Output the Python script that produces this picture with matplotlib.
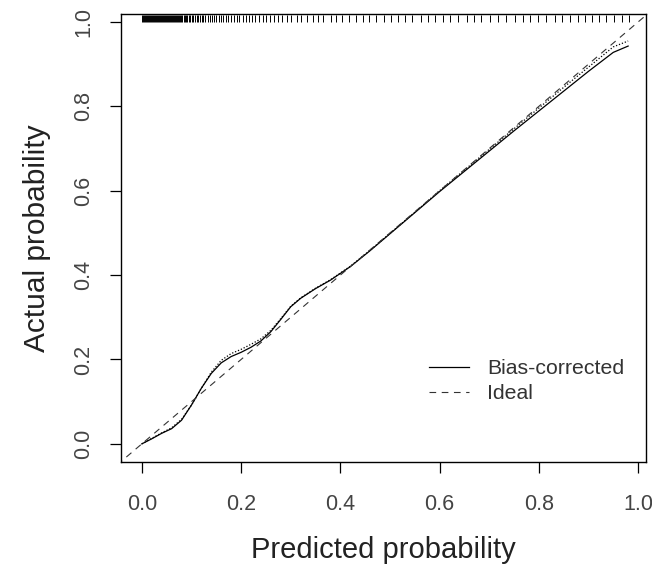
import matplotlib.pyplot as plt
import numpy as np

plt.rcParams['font.family'] = ['Liberation Sans', 'DejaVu Sans']

# calibration curves
pred = [0.0, 0.02, 0.04, 0.06, 0.08, 0.10, 0.12, 0.14, 0.16, 0.18, 0.20, 0.22,
        0.24, 0.26, 0.28, 0.30, 0.32, 0.35, 0.38, 0.42, 0.46, 0.50, 0.55, 0.60,
        0.65, 0.70, 0.75, 0.80, 0.85, 0.90, 0.95, 0.98]
bias_corrected = [0.0, 0.012, 0.025, 0.036, 0.056, 0.092, 0.132, 0.167, 0.192,
                  0.207, 0.217, 0.229, 0.244, 0.266, 0.295, 0.325, 0.345, 0.368,
                  0.388, 0.420, 0.458, 0.498, 0.548, 0.598, 0.646, 0.694, 0.742,
                  0.789, 0.836, 0.883, 0.928, 0.943]
apparent = [0.0, 0.013, 0.026, 0.038, 0.058, 0.092, 0.132, 0.170, 0.198, 0.214,
            0.224, 0.236, 0.249, 0.269, 0.297, 0.326, 0.346, 0.369, 0.389, 0.421,
            0.459, 0.499, 0.549, 0.600, 0.649, 0.698, 0.747, 0.796, 0.845, 0.893,
            0.941, 0.955]
ideal = [-0.05, 1.05]

# rug of predicted probabilities along the top
rug = [0.000, 0.002, 0.004, 0.006, 0.008, 0.010, 0.012, 0.014, 0.016, 0.018,
       0.020, 0.022, 0.024, 0.026, 0.028, 0.030, 0.032, 0.034, 0.036, 0.038,
       0.040, 0.042, 0.044, 0.046, 0.048, 0.050, 0.052, 0.054, 0.056, 0.058,
       0.060, 0.062, 0.064, 0.066, 0.068, 0.070, 0.072, 0.074, 0.076, 0.078,
       0.081, 0.084, 0.086, 0.089, 0.092, 0.095, 0.098, 0.101, 0.104, 0.108,
       0.111, 0.114, 0.118, 0.121, 0.124, 0.128, 0.133, 0.137, 0.141, 0.146,
       0.150, 0.155, 0.160, 0.164, 0.169, 0.174, 0.180, 0.186, 0.191, 0.196,
       0.203, 0.209, 0.216, 0.222, 0.229, 0.236, 0.244, 0.251, 0.259, 0.266,
       0.275, 0.283, 0.292, 0.301, 0.312, 0.321, 0.333, 0.345, 0.356, 0.366,
       0.381, 0.392, 0.404, 0.418, 0.431, 0.446, 0.458, 0.472, 0.487, 0.503,
       0.516, 0.531, 0.544, 0.562, 0.576, 0.591, 0.607, 0.622, 0.638, 0.655,
       0.669, 0.684, 0.702, 0.718, 0.733, 0.751, 0.768, 0.782, 0.799, 0.815,
       0.832, 0.847, 0.862, 0.879, 0.894, 0.908, 0.921, 0.936, 0.952, 0.967,
       0.981]

fig = plt.figure(figsize=(6.52, 5.68), dpi=100)
ax = fig.add_axes([121 / 652, (568 - 462) / 568, 525 / 652, 448 / 568])

ax.vlines(rug, 0.999, 1.016, color='black', lw=0.7)
ax.plot(pred, apparent, color='black', lw=0.9, ls=(0, (1, 1.5)))
ax.plot(pred, bias_corrected, color='black', lw=0.9, label='Bias-corrected')
ax.plot(ideal, ideal, color='#333333', lw=0.8, ls=(0, (6, 5)), label='Ideal')

ax.set_xlim(-0.042, 1.016)
ax.set_ylim(-0.043, 1.019)
ax.set_xticks([0, 0.2, 0.4, 0.6, 0.8, 1.0])
ax.set_yticks([0, 0.2, 0.4, 0.6, 0.8, 1.0])
ax.set_xticklabels(['0.0', '0.2', '0.4', '0.6', '0.8', '1.0'])
ax.set_yticklabels(['0.0', '0.2', '0.4', '0.6', '0.8', '1.0'], rotation=90, va='center')
ax.tick_params(direction='out', length=8, width=0.9, labelsize=15.5,
               labelcolor='#444444')
ax.tick_params(axis='x', pad=15)
ax.tick_params(axis='y', pad=11)
for s in ax.spines.values():
    s.set_linewidth(1.0)

ax.set_xlabel('Predicted probability', fontsize=21, color='#222222', labelpad=15)
ax.set_ylabel('Actual probability', fontsize=21.5, color='#222222', labelpad=16)

ax.legend(loc='upper left', bbox_to_anchor=(0.55, 0.272), frameon=False,
          fontsize=15.3, handlelength=1.9, labelcolor='#333333',
          handletextpad=0.85, labelspacing=0.28)

fig.savefig('out.png', dpi=100)
